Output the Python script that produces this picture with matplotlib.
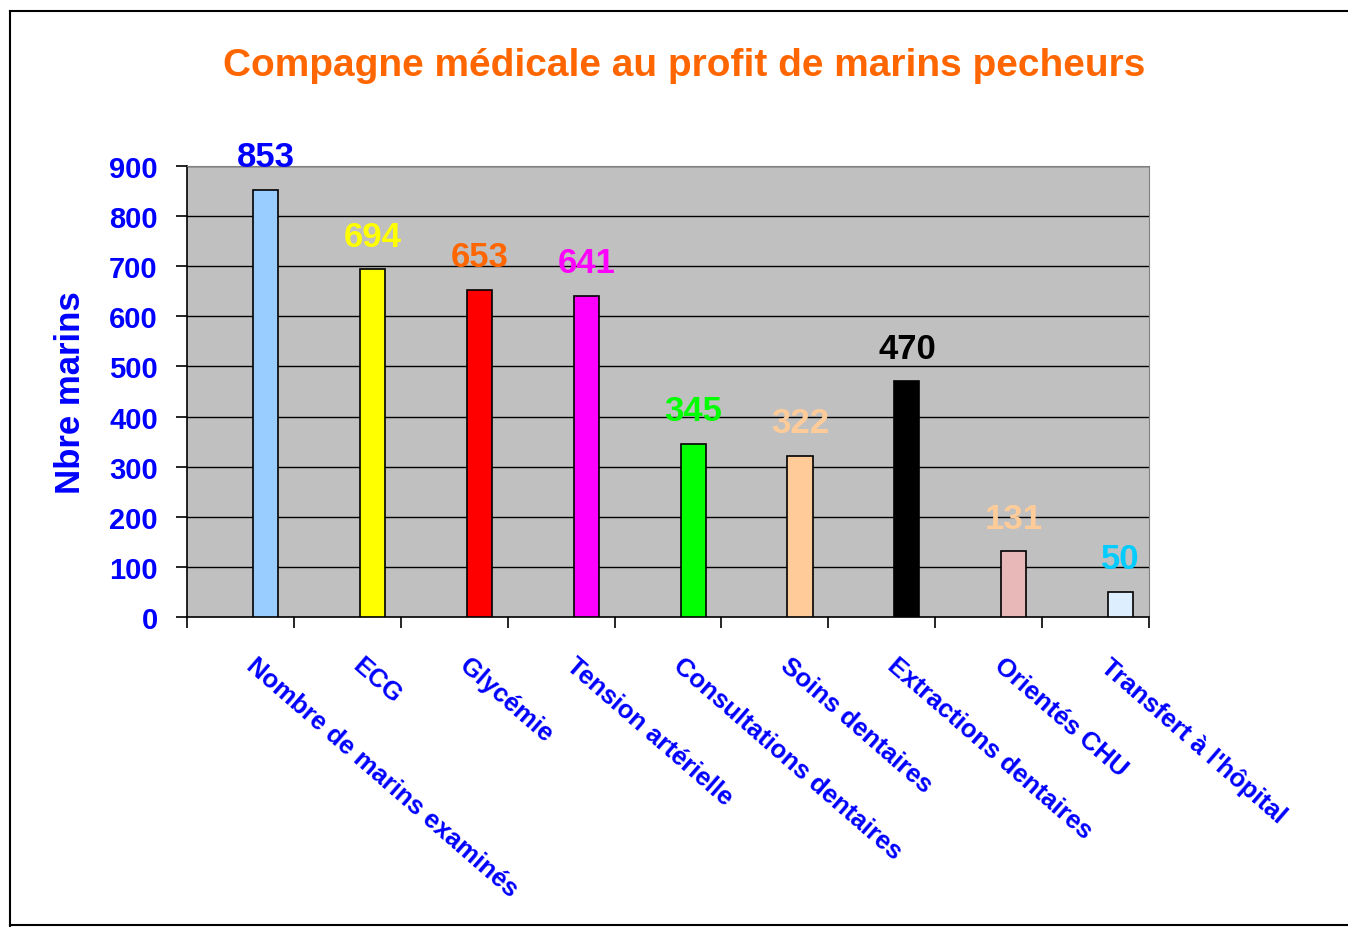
import matplotlib
matplotlib.use("Agg")
import matplotlib.pyplot as plt
from matplotlib.lines import Line2D

plt.rcParams['font.family'] = ['Liberation Sans', 'DejaVu Sans']

categories = ["Nombre de marins examinés", "ECG", "Glycémie", "Tension artérielle",
              "Consultations dentaires", "Soins dentaires", "Extractions dentaires",
              "Orientés CHU", "Transfert à l'hôpital"]
values = [853, 694, 653, 641, 345, 322, 470, 131, 50]
bar_colors = ["#99CCFF", "#FFFF00", "#FF0000", "#FF00FF", "#00FF00", "#FFCC99",
              "#000000", "#E8B8B8", "#DDEEFF"]
label_colors = ["#0000FF", "#FFFF00", "#FF6600", "#FF00FF", "#00FF00", "#FFCC99",
                "#000000", "#FFCC99", "#00CCFF"]
yticks = [0, 100, 200, 300, 400, 500, 600, 700, 800, 900]

W, H = 1348, 928
fig = plt.figure(figsize=(W / 100, H / 100), dpi=100)
fig.patch.set_facecolor("white")

# outer border
fig.add_artist(Line2D([10 / W, 10 / W], [0, 1 - 12 / H], color="black", lw=1.5, transform=fig.transFigure))
fig.add_artist(Line2D([10 / W, 1], [1 - 12 / H, 1 - 12 / H], color="black", lw=1.5, transform=fig.transFigure))
fig.add_artist(Line2D([10 / W, 1], [2 / H, 2 / H], color="black", lw=1.5, transform=fig.transFigure))

ax = fig.add_axes([187 / W, 1 - 618 / H, (1149 - 187) / W, (618 - 167) / H])
ax.set_facecolor("#C0C0C0")

n = len(values)
offset = 0.235
xs = [i + offset for i in range(n)]
ax.bar(xs, values, width=0.235, color=bar_colors, edgecolor="black", linewidth=1.2, zorder=3)

for x, v, c in zip(xs, values, label_colors):
    ax.annotate(str(v), (x, v), xytext=(0, 12), textcoords="offset points",
                ha="center", va="bottom", fontsize=25, fontweight="bold", color=c, zorder=4)

ax.set_xlim(-0.5, n - 0.5)
ax.set_ylim(0, 900)
ax.set_yticks(yticks)
ax.set_yticklabels([str(t) for t in yticks])
for t in yticks[1:]:
    ax.axhline(t, color="black", lw=1, zorder=1)

ax.tick_params(axis="y", direction="out", length=8, width=1.2, pad=13,
               labelsize=21, labelcolor="#0000FF", color="black")
for lab in ax.get_yticklabels():
    lab.set_fontweight("bold")

ax.set_xticks([i - 0.5 for i in range(n + 1)])
ax.set_xticklabels([])
ax.tick_params(axis="x", direction="out", length=8, width=1.2, color="black")

ax.spines["left"].set_color("black")
ax.spines["bottom"].set_color("black")
ax.spines["left"].set_linewidth(1.2)
ax.spines["bottom"].set_linewidth(1.2)
ax.spines["top"].set_color("#808080")
ax.spines["right"].set_color("#808080")

for x, cat in zip(xs, categories):
    ax.annotate(cat, (x, 0), xytext=(-6, -26), textcoords="offset points",
                ha="left", va="top", rotation=-41, rotation_mode="anchor",
                fontsize=18.5, fontweight="bold", color="#0000FF", annotation_clip=False)

ax.set_ylabel("Nbre marins", fontsize=25, fontweight="bold", color="#0000FF", labelpad=16)

fig.text(684 / W, 1 - 66 / H, "Compagne médicale au profit de marins pecheurs",
         ha="center", va="center", fontsize=28, fontweight="bold", color="#FF6600")

fig.savefig("out.png", dpi=100)
